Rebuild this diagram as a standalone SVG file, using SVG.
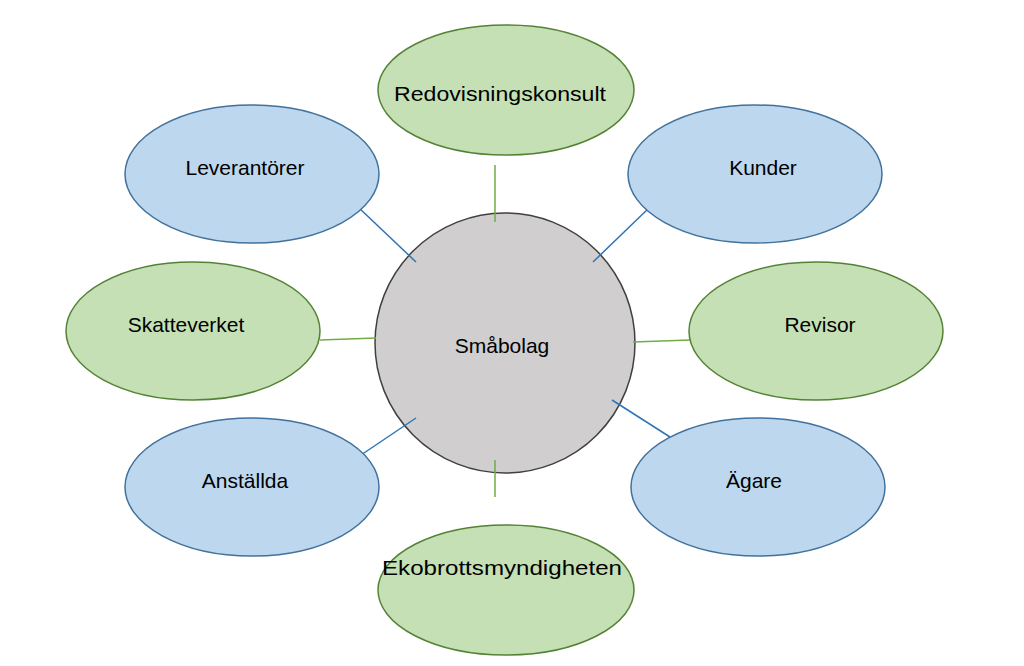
<svg xmlns="http://www.w3.org/2000/svg" width="1024" height="666" viewBox="0 0 1024 666">
<style>
.b{fill:#BDD7EE;stroke:#41719C;stroke-width:1.5}
.g{fill:#C5E0B4;stroke:#548235;stroke-width:1.5}
.c{fill:#D0CECE;stroke:#404040;stroke-width:1.5}
.lb{stroke:#2E75B6;stroke-width:1.5}
.lg{stroke:#70AD47;stroke-width:1.5}
text{font-family:"Liberation Sans",Arial,sans-serif;font-size:21px;fill:#000;text-anchor:middle;dominant-baseline:central}
</style>
<rect width="1024" height="666" fill="#fff"/>
<g id="smabolag"><circle class="c" cx="505" cy="343" r="130"/><text x="502" y="345">Småbolag</text></g>
<g id="connectors">
<line class="lg" x1="495" y1="165" x2="495" y2="222"/>
<line class="lb" x1="358" y1="207" x2="416" y2="262"/>
<line class="lb" x1="650" y1="207" x2="593" y2="262"/>
<line class="lg" x1="320" y1="340" x2="376" y2="338"/>
<line class="lg" x1="633" y1="342" x2="690" y2="340"/>
<line class="lb" x1="358" y1="457" x2="416" y2="418"/>
<line class="lb" x1="612" y1="400" x2="670" y2="437"/>
<line class="lg" x1="495" y1="460" x2="495" y2="497"/>
</g>
<g id="redovisningskonsult"><ellipse class="g" cx="506" cy="90" rx="128" ry="65"/><text x="500" y="93" textLength="212" lengthAdjust="spacingAndGlyphs">Redovisningskonsult</text></g>
<g id="leverantorer"><ellipse class="b" cx="252" cy="174" rx="127" ry="69"/><text x="245" y="167">Leverantörer</text></g>
<g id="kunder"><ellipse class="b" cx="755" cy="174" rx="127" ry="69"/><text x="763" y="167">Kunder</text></g>
<g id="skatteverket"><ellipse class="g" cx="193" cy="331" rx="127" ry="69"/><text x="186" y="324">Skatteverket</text></g>
<g id="revisor"><ellipse class="g" cx="816" cy="331" rx="127" ry="69"/><text x="820" y="324">Revisor</text></g>
<g id="anstallda"><ellipse class="b" cx="252" cy="487" rx="127" ry="69"/><text x="245" y="480">Anställda</text></g>
<g id="agare"><ellipse class="b" cx="758" cy="487" rx="127" ry="69"/><text x="754" y="480">Ägare</text></g>
<g id="ekobrottsmyndigheten"><ellipse class="g" cx="506" cy="590" rx="128" ry="65"/><text x="502" y="567" textLength="240" lengthAdjust="spacingAndGlyphs">Ekobrottsmyndigheten</text></g>
</svg>
